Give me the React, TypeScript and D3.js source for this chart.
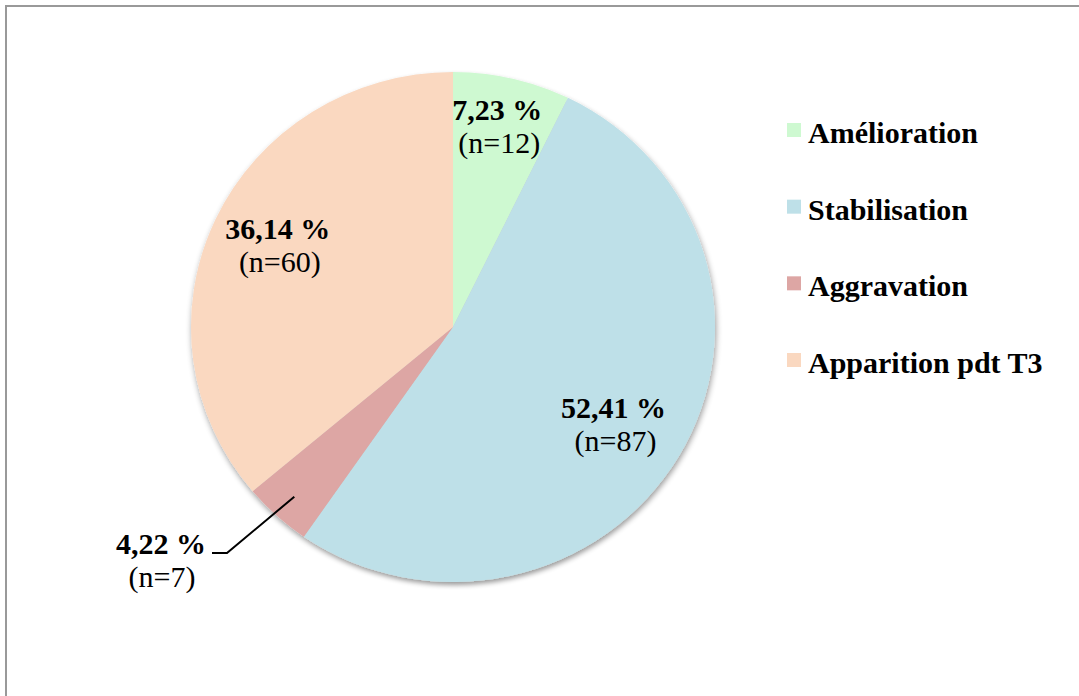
import React from "react";
import * as d3 from "d3";

const categories = ["Amélioration", "Stabilisation", "Aggravation", "Apparition pdt T3"];
const percents = [7.23, 52.41, 4.22, 36.14];
const counts = [12, 87, 7, 60];
const colors = ["#CEF9D1", "#BEE0E8", "#DDA6A4", "#FAD8C0"];

const W = 1079;
const H = 696;
const cx = 453;
const cy = 327;
const rx = 262;
const ry = 255;
const font = "'Liberation Serif', 'Times New Roman', serif";
const FS = 30;

// per-slice label nudges (layout only)
const nudges: [number, number][] = [[0, -6], [-9, 2], [0, 0], [3, 5]];

export default function App() {
  const pie = d3.pie<number>().sort(null).value((d) => d)(percents);
  const arc = d3.arc<d3.PieArcDatum<number>>().innerRadius(0).outerRadius(rx);
  const labelArc = d3
    .arc<d3.PieArcDatum<number>>()
    .innerRadius(rx * 0.75)
    .outerRadius(rx * 0.75);
  const fmt = (v: number) => v.toFixed(2).replace(".", ",") + " %";

  const legendY = d3.scalePoint<string>().domain(categories).range([123, 353]);

  return (
    <svg
      width={W}
      height={H}
      style={{ position: "absolute", left: 0, top: 0, background: "#fff" }}
      fontFamily={font}
    >
      <defs>
        <filter id="sh" x="-10%" y="-10%" width="120%" height="120%">
          <feGaussianBlur in="SourceAlpha" stdDeviation="3" />
          <feOffset dx="1" dy="3" result="b" />
          <feComponentTransfer>
            <feFuncA type="linear" slope="0.4" />
          </feComponentTransfer>
          <feMerge>
            <feMergeNode />
            <feMergeNode in="SourceGraphic" />
          </feMerge>
        </filter>
      </defs>
      <rect x={6} y={6} width={W + 20} height={H + 20} fill="#fff" stroke="#999" strokeWidth={2} />
      <g transform={`translate(${cx},${cy}) scale(1,${ry / rx})`} filter="url(#sh)">
        {pie.map((p, i) => (
          <path key={i} d={arc(p) || ""} fill={colors[i]} />
        ))}
      </g>
      {pie.map((p, i) => {
        if (i === 2) {
          const a = (p.startAngle + p.endAngle) / 2;
          const px = cx + Math.sin(a) * rx * 0.9;
          const py = cy - Math.cos(a) * ry * 0.9;
          return (
            <g key={i}>
              <polyline
                points={`${px},${py} 227,553 212,553`}
                fill="none"
                stroke="#000"
                strokeWidth={2}
              />
              <text x={161} y={554} textAnchor="middle" fontSize={FS} fontWeight="bold">
                {fmt(percents[i])}
              </text>
              <text x={162} y={587} textAnchor="middle" fontSize={FS}>
                {`(n=${counts[i]})`}
              </text>
            </g>
          );
        }
        const [lx0, ly0] = labelArc.centroid(p);
        const lx = cx + lx0 + nudges[i][0];
        const ly = cy + ly0 + nudges[i][1];
        return (
          <g key={i}>
            <text x={lx} y={ly - 10} textAnchor="middle" fontSize={FS} fontWeight="bold">
              {fmt(percents[i])}
            </text>
            <text x={lx + 2} y={ly + 23} textAnchor="middle" fontSize={FS}>
              {`(n=${counts[i]})`}
            </text>
          </g>
        );
      })}
      {categories.map((c, i) => (
        <g key={c} transform={`translate(787,${legendY(c)})`}>
          <rect x={0} y={0} width={14} height={14} fill={colors[i]} />
          <text x={21} y={20} fontSize={FS} fontWeight="bold">
            {c}
          </text>
        </g>
      ))}
    </svg>
  );
}
